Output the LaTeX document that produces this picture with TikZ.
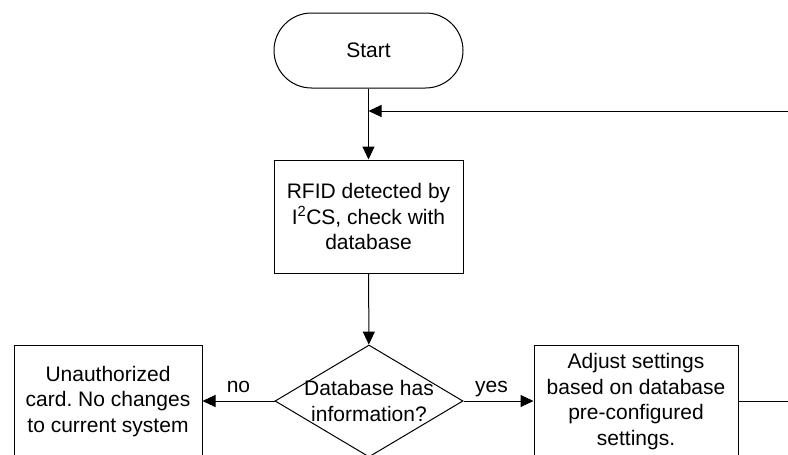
\documentclass[tikz,border=0pt]{standalone}
\usepackage{fontspec}
\setmainfont{Liberation Sans}
\usetikzlibrary{arrows.meta,shapes.misc,shapes.geometric}
\frenchspacing
\begin{document}
\begin{tikzpicture}[x=1pt,y=-1pt,
  flowtext/.style={font=\fontsize{21}{25.5}\selectfont, align=center, inner sep=0pt},
  shapeline/.style={draw=black, line width=1pt},
  terminal/.style={flowtext, shapeline, rounded rectangle, minimum width=189pt, minimum height=75pt},
  procbox/.style={flowtext, shapeline, rectangle, minimum height=113pt},
  decision/.style={shapeline, diamond, inner sep=0pt, minimum width=188pt, minimum height=112pt},
  conn/.style={draw=black, line width=1pt},
  arrowconn/.style={conn, -{Triangle[length=13pt,width=12pt]}},
  lbl/.style={flowtext, anchor=base, yshift=9pt}
]
\useasboundingbox (0,0) rectangle (788,455);
\clip (0,0) rectangle (788,455);

% process nodes
\node[terminal] (start) at (368.5,50.5) {Start};
\node[procbox, minimum width=189pt] (rfid) at (368.5,216.5)
  {RFID detected by\\I\textsuperscript{2}CS, check with\\database};
\node[decision] (dec) at (369,401) {};
\node[flowtext] (dectext) at (369,401) {Database has\\information?};
\node[procbox, minimum width=188pt] (unauth) at (108,401.5)
  {Unauthorized\\card. No changes\\to current system};
\node[procbox, minimum width=204pt] (adjust) at (636,401.5)
  {Adjust settings\\based on database\\pre-configured\\settings.};

% loose ends of the loop back
\coordinate (loopin) at (788,111);
\coordinate (loopout) at (788,401);

% connectors
\draw[arrowconn] (start) -- (rfid);
\draw[arrowconn] (loopin) -- (start.south |- loopin);
\draw[arrowconn] (rfid) -- (dec);
\draw[arrowconn] (dec.west) -- node[lbl, pos=0.5] {no} (unauth.east |- dec.west);
\draw[arrowconn] (dec.east) -- node[lbl, pos=0.4] {yes} (adjust.west |- dec.east);
\draw[conn] (adjust.east |- loopout) -- (loopout);
\end{tikzpicture}
\end{document}
